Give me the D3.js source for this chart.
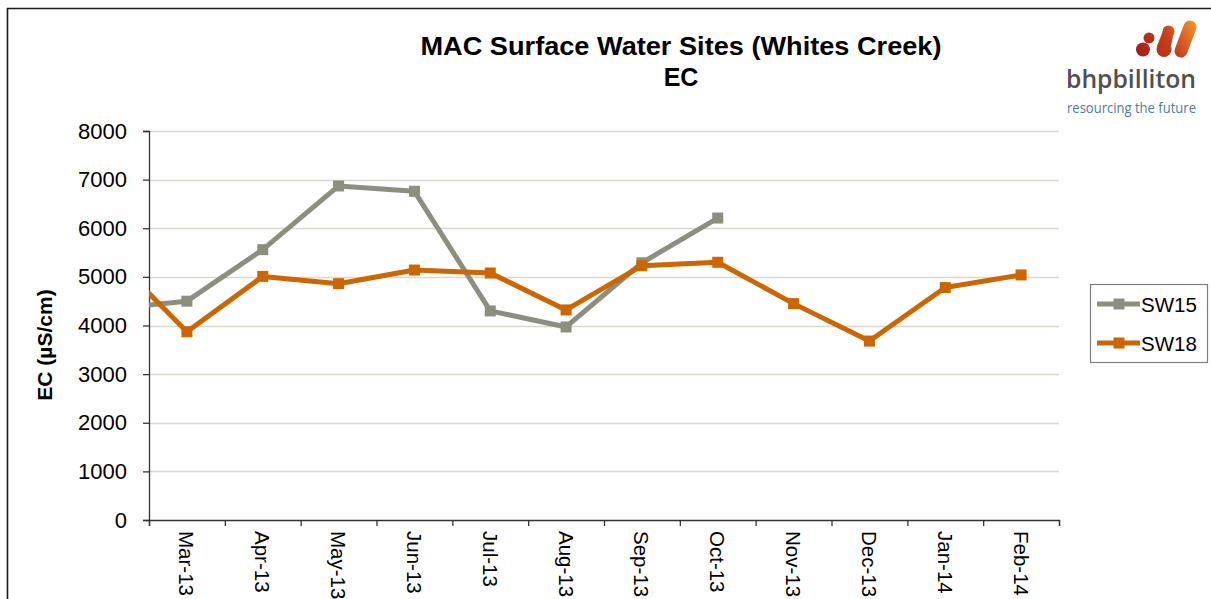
<!DOCTYPE html>
<html>
<head>
<meta charset="utf-8">
<script src="https://cdn.jsdelivr.net/npm/d3@7"></script>
<style>
  html, body { margin: 0; padding: 0; background: #fff; }
  svg { display: block; font-family: "Liberation Sans", Arial, sans-serif; }
</style>
</head>
<body>
<svg id="chart" width="1211" height="599"></svg>
<script>
// Monthly EC readings; Feb-13 is a lead-in reading that sits just left of the plot edge.
const months = ["Feb-13", "Mar-13", "Apr-13", "May-13", "Jun-13", "Jul-13", "Aug-13",
                "Sep-13", "Oct-13", "Nov-13", "Dec-13", "Jan-14", "Feb-14"];
const sw15 = [4340, 4500, 5560, 6870, 6760, 4300, 3970, 5290, 6210, null, null, null, null];
const sw18 = [5450, 3870, 5010, 4860, 5140, 5080, 4320, 5230, 5300, 4450, 3680, 4780, 5040];
const yTicks = [0, 1000, 2000, 3000, 4000, 5000, 6000, 7000, 8000];
const seriesNames = ["SW15", "SW18"];
const seriesColors = ["#8c8f80", "#cc6600"];

const svg = d3.select("#chart");

// plot area
const plotL = 149, plotR = 1059, plotT = 131, plotB = 520;
const x = d3.scaleLinear().domain([0.5, months.length - 0.5]).range([plotL, plotR]);
const y = d3.scaleLinear().domain([0, 8000]).range([plotB, plotT]);

// outer frame
svg.append("path")
  .attr("d", `M7.5,600 V8.5 H1212`)
  .attr("fill", "none").attr("stroke", "#1a1a1a").attr("stroke-width", 1.6);

// title
const title = svg.append("text")
  .attr("text-anchor", "middle").attr("font-weight", "bold").attr("font-size", 25).attr("fill", "#000");
title.append("tspan").attr("x", 681).attr("y", 55)
  .attr("textLength", 521).attr("lengthAdjust", "spacingAndGlyphs")
  .text("MAC Surface Water Sites (Whites Creek)");
title.append("tspan").attr("x", 681).attr("y", 86).text("EC");

// gridlines
svg.append("g").selectAll("line").data(yTicks.filter(d => d > 0)).join("line")
  .attr("x1", plotL).attr("x2", plotR)
  .attr("y1", d => Math.round(y(d)) + 0.5).attr("y2", d => Math.round(y(d)) + 0.5)
  .attr("stroke", "#d8d8cc").attr("stroke-width", 1.5);

// y axis
const yAxis = svg.append("g").attr("transform", `translate(${plotL},0)`)
  .call(d3.axisLeft(y).tickValues(yTicks).tickSize(6).tickPadding(16).tickFormat(d3.format("d")));
yAxis.select(".domain").attr("stroke", "#333").attr("stroke-width", 1.3);
yAxis.selectAll(".tick line").attr("stroke", "#333").attr("stroke-width", 1.3);
yAxis.selectAll(".tick text").attr("font-size", 22).attr("fill", "#000")
  .attr("font-family", "Liberation Sans, Arial, sans-serif");

// x axis: tick marks on category boundaries, labels at category centres
const bounds = d3.range(0.5, months.length, 1);
const xAxis = svg.append("g").attr("transform", `translate(0,${plotB})`)
  .call(d3.axisBottom(x).tickValues(bounds).tickSize(6).tickFormat(""));
xAxis.select(".domain").attr("stroke", "#333").attr("stroke-width", 1.3);
xAxis.selectAll(".tick line").attr("stroke", "#333").attr("stroke-width", 1.3);

svg.append("g").selectAll("text").data(months.slice(1)).join("text")
  .attr("transform", (d, i) => `translate(${x(i + 1)},${plotB + 11}) rotate(90)`)
  .attr("dominant-baseline", "central")
  .attr("font-size", 20.5).attr("fill", "#000")
  .text(d => d);

// y axis title
svg.append("text")
  .attr("transform", `translate(44,345) rotate(-90)`)
  .attr("text-anchor", "middle").attr("dominant-baseline", "central")
  .attr("font-weight", "bold").attr("font-size", 21).attr("fill", "#000")
  .text("EC (µS/cm)");

// series, clipped to the plot area
svg.append("clipPath").attr("id", "plotClip")
  .append("rect").attr("x", plotL).attr("y", plotT - 10)
  .attr("width", plotR - plotL).attr("height", plotB - plotT + 10);

const plot = svg.append("g").attr("clip-path", "url(#plotClip)");
const line = d3.line().defined(d => d != null).x((d, i) => x(i)).y(d => y(d));

[sw15, sw18].forEach((vals, s) => {
  const g = plot.append("g");
  g.append("path").datum(vals).attr("d", line)
    .attr("fill", "none").attr("stroke", seriesColors[s]).attr("stroke-width", 5)
    .attr("stroke-linejoin", "round");
  const pts = vals.map((v, i) => ({ v, i })).filter(p => p.v != null);
  g.selectAll("rect").data(pts).join("rect")
    .attr("x", p => x(p.i) - 5.5).attr("y", p => y(p.v) - 5.5)
    .attr("width", 11).attr("height", 11).attr("fill", seriesColors[s]);
});

// legend
const lg = svg.append("g");
lg.append("rect").attr("x", 1090.5).attr("y", 284.5).attr("width", 117).attr("height", 78)
  .attr("fill", "#fff").attr("stroke", "#7f7f7f").attr("stroke-width", 1.2);
seriesNames.forEach((name, s) => {
  const ly = 304 + s * 39;
  lg.append("line").attr("x1", 1097).attr("x2", 1140).attr("y1", ly).attr("y2", ly)
    .attr("stroke", seriesColors[s]).attr("stroke-width", 5);
  lg.append("rect").attr("x", 1113.5).attr("y", ly - 5.5).attr("width", 11).attr("height", 11)
    .attr("fill", seriesColors[s]);
  lg.append("text").attr("x", 1141).attr("y", ly).attr("dominant-baseline", "central")
    .attr("font-size", 20.5).attr("fill", "#000").text(name);
});

// company logo
const defs = svg.append("defs");
const grad = defs.append("linearGradient").attr("id", "logoGrad")
  .attr("gradientUnits", "userSpaceOnUse")
  .attr("x1", 1136).attr("y1", 58).attr("x2", 1196).attr("y2", 22);
grad.append("stop").attr("offset", "0%").attr("stop-color", "#9e1c18");
grad.append("stop").attr("offset", "55%").attr("stop-color", "#c8401c");
grad.append("stop").attr("offset", "100%").attr("stop-color", "#f39a2a");
const logo = svg.append("g");
const mark = logo.append("g").attr("fill", "url(#logoGrad)");
mark.append("circle").attr("cx", 1149).attr("cy", 38).attr("r", 5.5);
mark.append("circle").attr("cx", 1143).attr("cy", 49.5).attr("r", 7);
mark.append("circle").attr("cx", 1168.5).attr("cy", 31.5).attr("r", 6);
mark.append("circle").attr("cx", 1164).attr("cy", 49.5).attr("r", 7.5);
mark.append("path").attr("d", "M1163,31 L1174,31 L1171,46 L1157,46 Z");
mark.append("line").attr("x1", 1190).attr("y1", 27).attr("x2", 1181).attr("y2", 51)
  .attr("stroke", "url(#logoGrad)").attr("stroke-width", 13).attr("stroke-linecap", "round");

// wordmark and tagline, squeezed horizontally to a fixed width
function fittedText(str, x0, y0, width, size, weight, color) {
  const t = logo.append("text").attr("x", 0).attr("y", 0)
    .attr("font-family", "Open Sans, Liberation Sans, sans-serif")
    .attr("font-size", size).attr("font-weight", weight).attr("fill", color).text(str);
  const natural = t.node().getComputedTextLength();
  t.attr("transform", `translate(${x0},${y0}) scale(${width / natural},1)`);
}
fittedText("bhpbilliton", 1066, 88, 130, 26, 600, "#505050");
fittedText("resourcing the future", 1067, 113, 129, 15, 400, "#4f7c9c");
</script>
</body>
</html>
